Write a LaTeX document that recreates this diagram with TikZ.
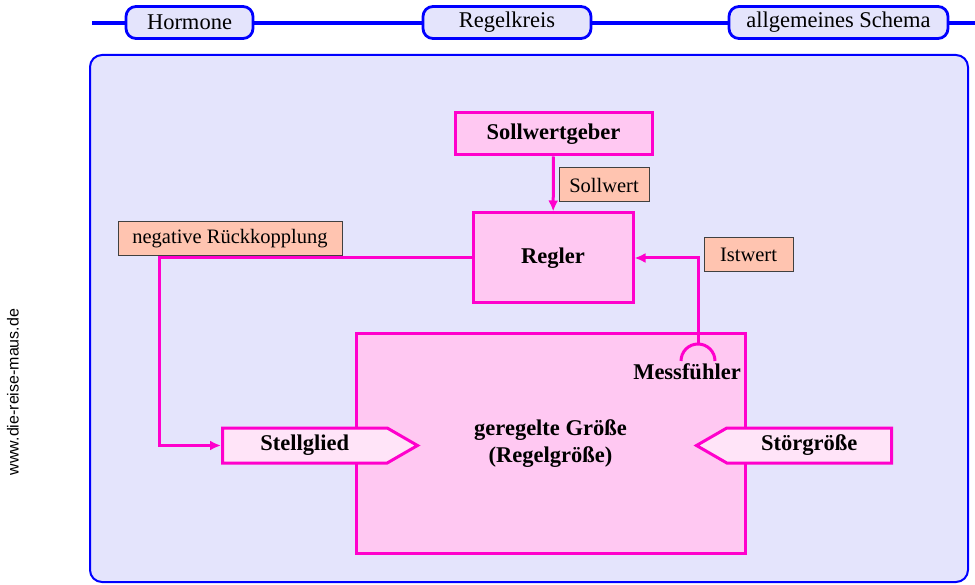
\documentclass[tikz,border=0pt]{standalone}
\usepackage{fontspec}
\setmainfont{Liberation Serif}
\newfontfamily\sidefont{Liberation Sans}
\usetikzlibrary{shapes.symbols,arrows.meta,positioning}
\definecolor{mag}{HTML}{FF00CC}
\definecolor{boxpink}{HTML}{FFC8F2}
\definecolor{lightpink}{HTML}{FFE4F8}
\definecolor{panel}{HTML}{E4E4FC}
\definecolor{salmon}{HTML}{FFC4B0}
\tikzstyle{tab} = [rectangle, draw=blue, fill=panel, rounded corners=10pt, line width=2.8pt, minimum height=32pt, font=\fontsize{22.5}{26}\selectfont]
\tikzstyle{block} = [rectangle, draw=mag, fill=boxpink, line width=3pt, align=center, font=\fontsize{22.5}{27}\selectfont\bfseries]
\tikzstyle{tag} = [rectangle, draw=black!75, fill=salmon, line width=1pt, minimum height=34pt, font=\fontsize{20.5}{24}\selectfont]
\tikzstyle{pointer} = [signal, draw=mag, fill=lightpink, line width=3pt, minimum height=35pt, minimum width=195pt, signal pointer angle=60, font=\fontsize{22.5}{26}\selectfont\bfseries]
\tikzstyle{line} = [draw=mag, line width=3pt, -{Latex[length=11pt,width=10pt]}]
\begin{document}
\begin{tikzpicture}[x=1pt, y=-1pt]
\useasboundingbox (0,0) rectangle (975,585);
% Kopfleiste
\draw[blue, line width=3.5pt] (92,23) -- (975,23);
\node[tab, minimum width=127pt] (hormone) at (189.5,22.5) {Hormone};
\node[tab, minimum width=168pt] (regelkreis) at (507,22.5) {Regelkreis};
\node[tab, minimum width=219pt] (schema) at (838.5,22.5) {allgemeines Schema};
% Hintergrund
\draw[blue, line width=2pt, fill=panel, rounded corners=12pt] (90,55) rectangle (968,582);
\node[rotate=90, font=\sidefont\fontsize{16}{18}\selectfont] (url) at (13,392) {www.die-reise-maus.de};
% Regelstrecke
\node[block, minimum width=389pt, minimum height=219pt] (strecke) at (550.5,443.5) {geregelte Größe\\(Regelgröße)};
\node[font=\fontsize{22.5}{26}\selectfont\bfseries] (messtext) at (687,372) {Messfühler};
\coordinate (fuehler) at (698,344);
\draw[mag, line width=3pt] (681,361) arc (180:360:17);
\node[pointer, signal to=east, anchor=west] (stellglied) at (221,445.5) {Stellglied};
\node[pointer, signal to=west, anchor=east] (stoerung) at (893,445.5) {Störgröße};
% Regler
\node[block, minimum width=197pt, minimum height=42pt] (sollgeber) at (553.5,134) {Sollwertgeber};
\node[block, minimum width=160pt, minimum height=90pt] (regler) at (553,258) {Regler};
\node[tag, minimum width=90pt] (sollwert) at (604,185) {Sollwert};
\node[tag, minimum width=89pt] (istwert) at (748.5,255) {Istwert};
\node[tag, minimum width=224pt] (rueck) at (230,238.5) {negative Rückkopplung};
% Verbindungen
\coordinate (knick) at (159,258);
\path [line] (sollgeber) -- (regler);
\path [line] (fuehler) |- (regler.east);
\path [line] (regler.west) -- (knick) |- (stellglied.west);
\end{tikzpicture}
\end{document}
